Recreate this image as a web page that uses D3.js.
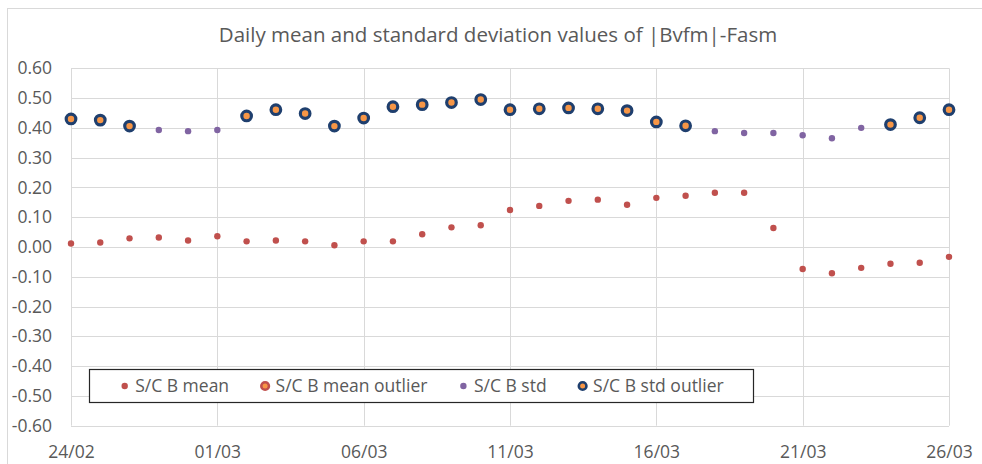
<!DOCTYPE html>
<html>
<head>
<meta charset="utf-8">
<script src="https://cdn.jsdelivr.net/npm/d3@7"></script>
<style>
  body { margin: 0; background: #fff; }
  text { font-family: "Open Sans", "Noto Sans", sans-serif; fill: #595959; }
</style>
</head>
<body>
<div id="chart"></div>
<script>
// days shown on the x axis (dd/mm)
const days = ["24/02","25/02","26/02","27/02","28/02","01/03","02/03","03/03","04/03","05/03",
              "06/03","07/03","08/03","09/03","10/03","11/03","12/03","13/03","14/03","15/03",
              "16/03","17/03","18/03","19/03","20/03","21/03","22/03","23/03","24/03","25/03","26/03"];

// daily mean of |Bvfm|-Fasm
const meanValues = [0.012,0.015,0.029,0.032,0.022,0.036,0.019,0.022,0.019,0.006,
                    0.019,0.019,0.043,0.066,0.073,0.124,0.138,0.155,0.159,0.142,
                    0.165,0.172,0.182,0.182,0.064,-0.074,-0.088,-0.070,-0.056,-0.053,-0.033];

// daily standard deviation
const stdValues = [0.430,0.426,0.406,0.393,0.389,0.393,0.440,0.461,0.448,0.406,
                   0.433,0.471,0.478,0.485,0.495,0.461,0.464,0.467,0.464,0.458,
                   0.420,0.407,0.389,0.383,0.383,0.375,0.365,0.400,0.411,0.434,0.461];

// 1 = std flagged as outlier (no mean outliers in this period)
const stdOutlier = [1,1,1,0,0,0,1,1,1,1, 1,1,1,1,1,1,1,1,1,1, 1,1,0,0,0,0,0,0,1,1,1];
const meanOutlier = [0,0,0,0,0,0,0,0,0,0, 0,0,0,0,0,0,0,0,0,0, 0,0,0,0,0,0,0,0,0,0,0];

const xTickLabels = ["24/02","01/03","06/03","11/03","16/03","21/03","26/03"];
const yTicks = [-0.6,-0.5,-0.4,-0.3,-0.2,-0.1,0,0.1,0.2,0.3,0.4,0.5,0.6];

const legendItems = [
  {name: "S/C B mean", type: "mean"},
  {name: "S/C B mean outlier", type: "meanOut"},
  {name: "S/C B std", type: "std"},
  {name: "S/C B std outlier", type: "stdOut"}
];

const colors = {mean: "#c0504d", std: "#8064a2", outFill: "#f79646", stdOutStroke: "#1f3f6e"};

const width = 982, height = 464;
const margin = {top: 68.3, right: 33, bottom: 38.3, left: 71};

const svg = d3.select("#chart").append("svg")
    .attr("width", width)
    .attr("height", height);

// chart area border
svg.append("rect")
    .attr("x", 7.5).attr("y", 8.5)
    .attr("width", width + 10).attr("height", height + 10)
    .attr("fill", "#fff")
    .attr("stroke", "#d9d9d9");

const parse = d3.timeParse("%d/%m/%Y");
const dates = days.map(d => parse(d + "/2021"));

const x = d3.scaleTime()
    .domain([dates[0], dates[dates.length - 1]])
    .range([margin.left, width - margin.right]);

const y = d3.scaleLinear()
    .domain([-0.6, 0.6])
    .range([height - margin.bottom, margin.top]);

const xTicks = xTickLabels.map(d => parse(d + "/2021"));

// gridlines
svg.append("g").selectAll("line.h")
    .data(yTicks).enter().append("line")
    .attr("x1", margin.left).attr("x2", width - margin.right)
    .attr("y1", d => Math.round(y(d)) + 0.5).attr("y2", d => Math.round(y(d)) + 0.5)
    .attr("stroke", "#d9d9d9");

svg.append("g").selectAll("line.v")
    .data(xTicks).enter().append("line")
    .attr("y1", margin.top).attr("y2", height - margin.bottom)
    .attr("x1", d => Math.round(x(d)) + 0.5).attr("x2", d => Math.round(x(d)) + 0.5)
    .attr("stroke", "#d9d9d9");

// axes (labels only)
const fmt = d => (d < -1e-9 ? "-" : "") + Math.abs(d).toFixed(2);

const yAxis = svg.append("g")
    .attr("transform", `translate(${margin.left},0)`)
    .call(d3.axisLeft(y).tickValues(yTicks).tickFormat(fmt).tickSize(0).tickPadding(19));
yAxis.select(".domain").remove();
yAxis.selectAll("text").style("font-size", "17.5px").attr("fill", "#595959");

const xAxis = svg.append("g")
    .attr("transform", `translate(0,${height - margin.bottom})`)
    .call(d3.axisBottom(x).tickValues(xTicks).tickFormat(d3.timeFormat("%d/%m")).tickSize(0).tickPadding(20));
xAxis.select(".domain").remove();
xAxis.selectAll("text").style("font-size", "17.5px").attr("fill", "#595959");

// title
svg.append("text")
    .attr("x", 498).attr("y", 42)
    .attr("text-anchor", "middle")
    .style("font-size", "20.5px")
    .text("Daily mean and standard deviation values of |Bvfm|-Fasm");

// std points
svg.append("g").selectAll("circle")
    .data(stdValues.map((v, i) => ({date: dates[i], v: v, out: stdOutlier[i]})))
    .enter().append("circle")
    .attr("cx", d => x(d.date)).attr("cy", d => y(d.v))
    .attr("r", 3.2)
    .attr("fill", colors.std);

// mean points
svg.append("g").selectAll("circle")
    .data(meanValues.map((v, i) => ({date: dates[i], v: v, out: meanOutlier[i]})))
    .enter().append("circle")
    .attr("cx", d => x(d.date)).attr("cy", d => y(d.v))
    .attr("r", 3.2)
    .attr("fill", colors.mean);

// mean outliers
svg.append("g").selectAll("circle")
    .data(meanValues.map((v, i) => ({date: dates[i], v: v, out: meanOutlier[i]})).filter(d => d.out))
    .enter().append("circle")
    .attr("cx", d => x(d.date)).attr("cy", d => y(d.v))
    .attr("r", 4.8)
    .attr("fill", colors.outFill)
    .attr("stroke", colors.mean)
    .attr("stroke-width", 3.2);

// std outliers
svg.append("g").selectAll("circle")
    .data(stdValues.map((v, i) => ({date: dates[i], v: v, out: stdOutlier[i]})).filter(d => d.out))
    .enter().append("circle")
    .attr("cx", d => x(d.date)).attr("cy", d => y(d.v))
    .attr("r", 4.8)
    .attr("fill", colors.outFill)
    .attr("stroke", colors.stdOutStroke)
    .attr("stroke-width", 3.2);

// legend
const legend = svg.append("g");
legend.append("rect")
    .attr("x", 89.5).attr("y", 369.5)
    .attr("width", 664).attr("height", 33)
    .attr("fill", "#fff")
    .attr("stroke", "#262626")
    .attr("stroke-width", 1.2);

let lx = 124.7;
const ly = 386;
legendItems.forEach(item => {
    const g = legend.append("g");
    if (item.type === "mean") {
        g.append("circle").attr("cx", lx).attr("cy", ly).attr("r", 3.2).attr("fill", colors.mean);
    } else if (item.type === "std") {
        g.append("circle").attr("cx", lx).attr("cy", ly).attr("r", 3.2).attr("fill", colors.std);
    } else if (item.type === "meanOut") {
        g.append("circle").attr("cx", lx).attr("cy", ly).attr("r", 3.8)
            .attr("fill", colors.outFill).attr("stroke", colors.mean).attr("stroke-width", 2.6);
    } else {
        g.append("circle").attr("cx", lx).attr("cy", ly).attr("r", 3.8)
            .attr("fill", colors.outFill).attr("stroke", colors.stdOutStroke).attr("stroke-width", 2.6);
    }
    const t = g.append("text")
        .attr("x", lx + 10.5).attr("y", ly)
        .attr("dy", "0.35em")
        .style("font-size", "17.5px")
        .text(item.name);
    lx = lx + 10.5 + t.node().getComputedTextLength() + 36;
});
</script>
</body>
</html>
